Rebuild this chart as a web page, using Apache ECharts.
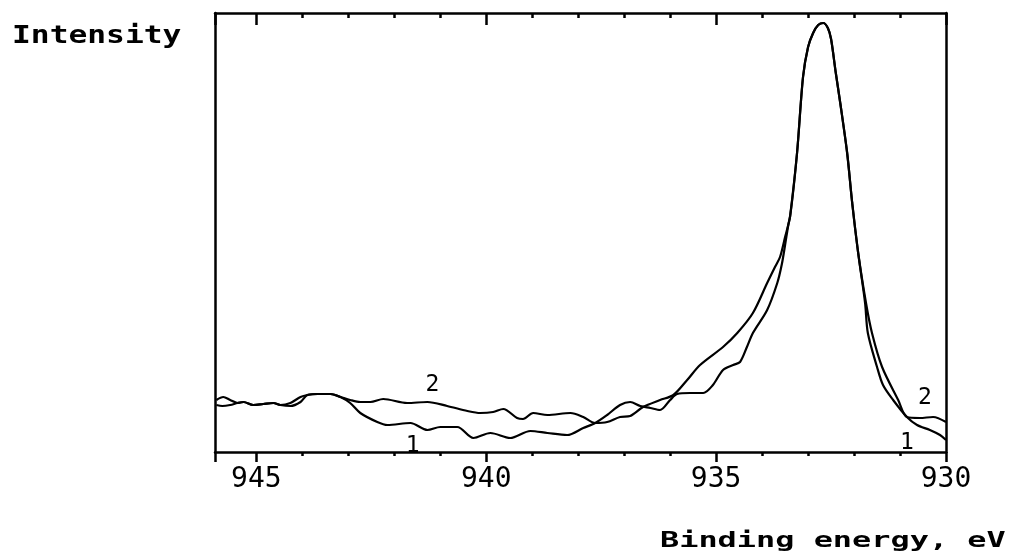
<!DOCTYPE html>
<html>
<head>
<meta charset="utf-8">
<script src="https://cdn.jsdelivr.net/npm/echarts@6/dist/echarts.min.js"></script>
<style>
html,body{margin:0;padding:0;background:#fff;}
#chart{width:1019px;height:557px;}
</style>
</head>
<body>
<div id="chart"></div>
<script>
// Binding energy (eV) and intensity (arb. units) for spectrum 1
var energy1 = [945.87,945.74,945.57,945.41,945.28,945.07,944.85,944.63,944.48,944.26,944.04,943.89,943.67,943.39,943.17,942.96,942.74,942.37,942.15,941.65,941.28,941.00,940.63,940.28,939.91,939.48,939.04,938.67,938.24,937.89,937.63,937.37,937.09,936.87,936.65,936.43,936.22,936.00,935.85,935.57,935.28,935.07,934.85,934.63,934.48,934.33,934.20,933.89,933.67,933.57,933.50,933.43,933.39,933.24,933.11,933.00,932.89,932.78,932.67,932.57,932.50,932.40,932.30,932.15,932.04,931.91,931.76,931.70,931.50,931.37,931.15,930.85,930.63,930.35,930.13,930.00];
var intensity1 = [47,46,47,49,50,47,48,49,47,46,50,57,58,58,55,49,39,30,27,29,22,25,25,14,19,14,21,19,17,24,29,37,47,50,46,44,42,52,58,59,59,67,82,87,90,105,119,142,169,188,207,227,236,299,375,405,419,427,429,424,413,380,349,299,249,199,149,119,85,67,52,35,27,22,17,12];
// Binding energy (eV) and intensity (arb. units) for spectrum 2
var energy2 = [945.87,945.72,945.57,945.41,945.28,945.07,944.85,944.63,944.48,944.26,944.04,943.89,943.67,943.39,943.17,942.96,942.74,942.52,942.24,941.72,941.28,940.85,940.41,940.13,939.85,939.63,939.33,939.20,938.98,938.67,938.17,937.89,937.63,937.37,937.09,936.87,936.59,936.22,935.93,935.63,935.35,934.85,934.54,934.20,933.89,933.72,933.61,933.50,933.39,933.24,933.11,933.00,932.89,932.78,932.67,932.57,932.50,932.40,932.30,932.15,932.04,931.91,931.74,931.61,931.39,931.04,930.85,930.57,930.28,930.00];
var intensity2 = [52,55,52,49,50,47,48,49,47,49,55,57,58,58,55,52,50,50,53,49,50,46,41,39,40,43,34,33,39,37,39,35,29,30,35,36,45,52,57,72,87,105,119,139,169,185,195,215,236,299,375,405,419,427,429,424,413,380,349,299,249,199,149,119,85,52,35,34,35,30];
// Curve labels: text, energy, intensity
var curveLabels = ['2','2','1','1'];
var labelEnergy = [941.17,930.46,941.60,930.85];
var labelIntensity = [67,54,6,9];
// Axis ticks
var tickValues = [930,935,940,945];

function toPairs(xs, ys){ return xs.map(function(x,i){ return [x, ys[i]]; }); }

var chart = echarts.init(document.getElementById('chart'), null, {renderer:'canvas'});
var mono = '"DejaVu Sans Mono", "Liberation Mono", monospace';
var ink = '#000';

var labelPoints = curveLabels.map(function(t,i){
  return {coord:[labelEnergy[i], labelIntensity[i]], value:t};
});

chart.setOption({
  backgroundColor:'#fff',
  animation:false,
  grid:{left:215, right:73, top:13, bottom:105},
  xAxis:[{
    type:'value', inverse:true, min:930, max:945.9, interval:5,
    position:'bottom',
    axisLine:{show:true, onZero:false, lineStyle:{color:ink, width:2.5}},
    axisTick:{show:true, inside:false, length:10, lineStyle:{color:ink, width:2.5}},
    minorTick:{show:true, splitNumber:5, length:4, lineStyle:{color:ink, width:2.5}},
    splitLine:{show:false},
    axisLabel:{show:true, margin:14, color:ink, fontFamily:mono, fontSize:28,
      formatter:function(v){ return tickValues.indexOf(v) >= 0 ? String(v) : ''; },
      showMinLabel:true, showMaxLabel:false}
  },{
    type:'value', inverse:true, min:930, max:945.9, interval:5,
    position:'top',
    axisLine:{show:true, onZero:false, lineStyle:{color:ink, width:2.5}},
    axisTick:{show:true, inside:true, length:12, lineStyle:{color:ink, width:2.5}},
    minorTick:{show:true, splitNumber:5, length:5, lineStyle:{color:ink, width:2.5}},
    splitLine:{show:false},
    axisLabel:{show:false}
  }],
  yAxis:[{
    type:'value', min:0, max:439, position:'left',
    axisLine:{show:true, onZero:false, lineStyle:{color:ink, width:2.5}},
    axisTick:{show:false}, axisLabel:{show:false}, splitLine:{show:false}
  },{
    type:'value', min:0, max:439, position:'right',
    axisLine:{show:true, onZero:false, lineStyle:{color:ink, width:2.5}},
    axisTick:{show:false}, axisLabel:{show:false}, splitLine:{show:false}
  }],
  series:[{
    name:'1', type:'line', xAxisIndex:0, yAxisIndex:0,
    data:toPairs(energy1, intensity1),
    smooth:0.3, symbol:'none',
    lineStyle:{color:ink, width:2.2},
    markPoint:{
      symbol:'circle', symbolSize:0,
      label:{show:true, position:'inside', color:ink, fontFamily:mono, fontSize:23,
        formatter:function(p){ return p.value; }},
      data:labelPoints
    }
  },{
    name:'2', type:'line', xAxisIndex:0, yAxisIndex:0,
    data:toPairs(energy2, intensity2),
    smooth:0.3, symbol:'none',
    lineStyle:{color:ink, width:2.2}
  }],
  graphic:[{
    type:'text', x:12, y:36, scaleX:1.25,
    style:{text:'Intensity', font:'bold 25px ' + mono, fill:ink, textAlign:'left', textVerticalAlign:'middle'}
  },{
    type:'text', x:660, y:541, scaleX:1.45,
    style:{text:'Binding energy, eV', font:'bold 22px ' + mono, fill:ink, textAlign:'left', textVerticalAlign:'middle'}
  }]
});
</script>
</body>
</html>
